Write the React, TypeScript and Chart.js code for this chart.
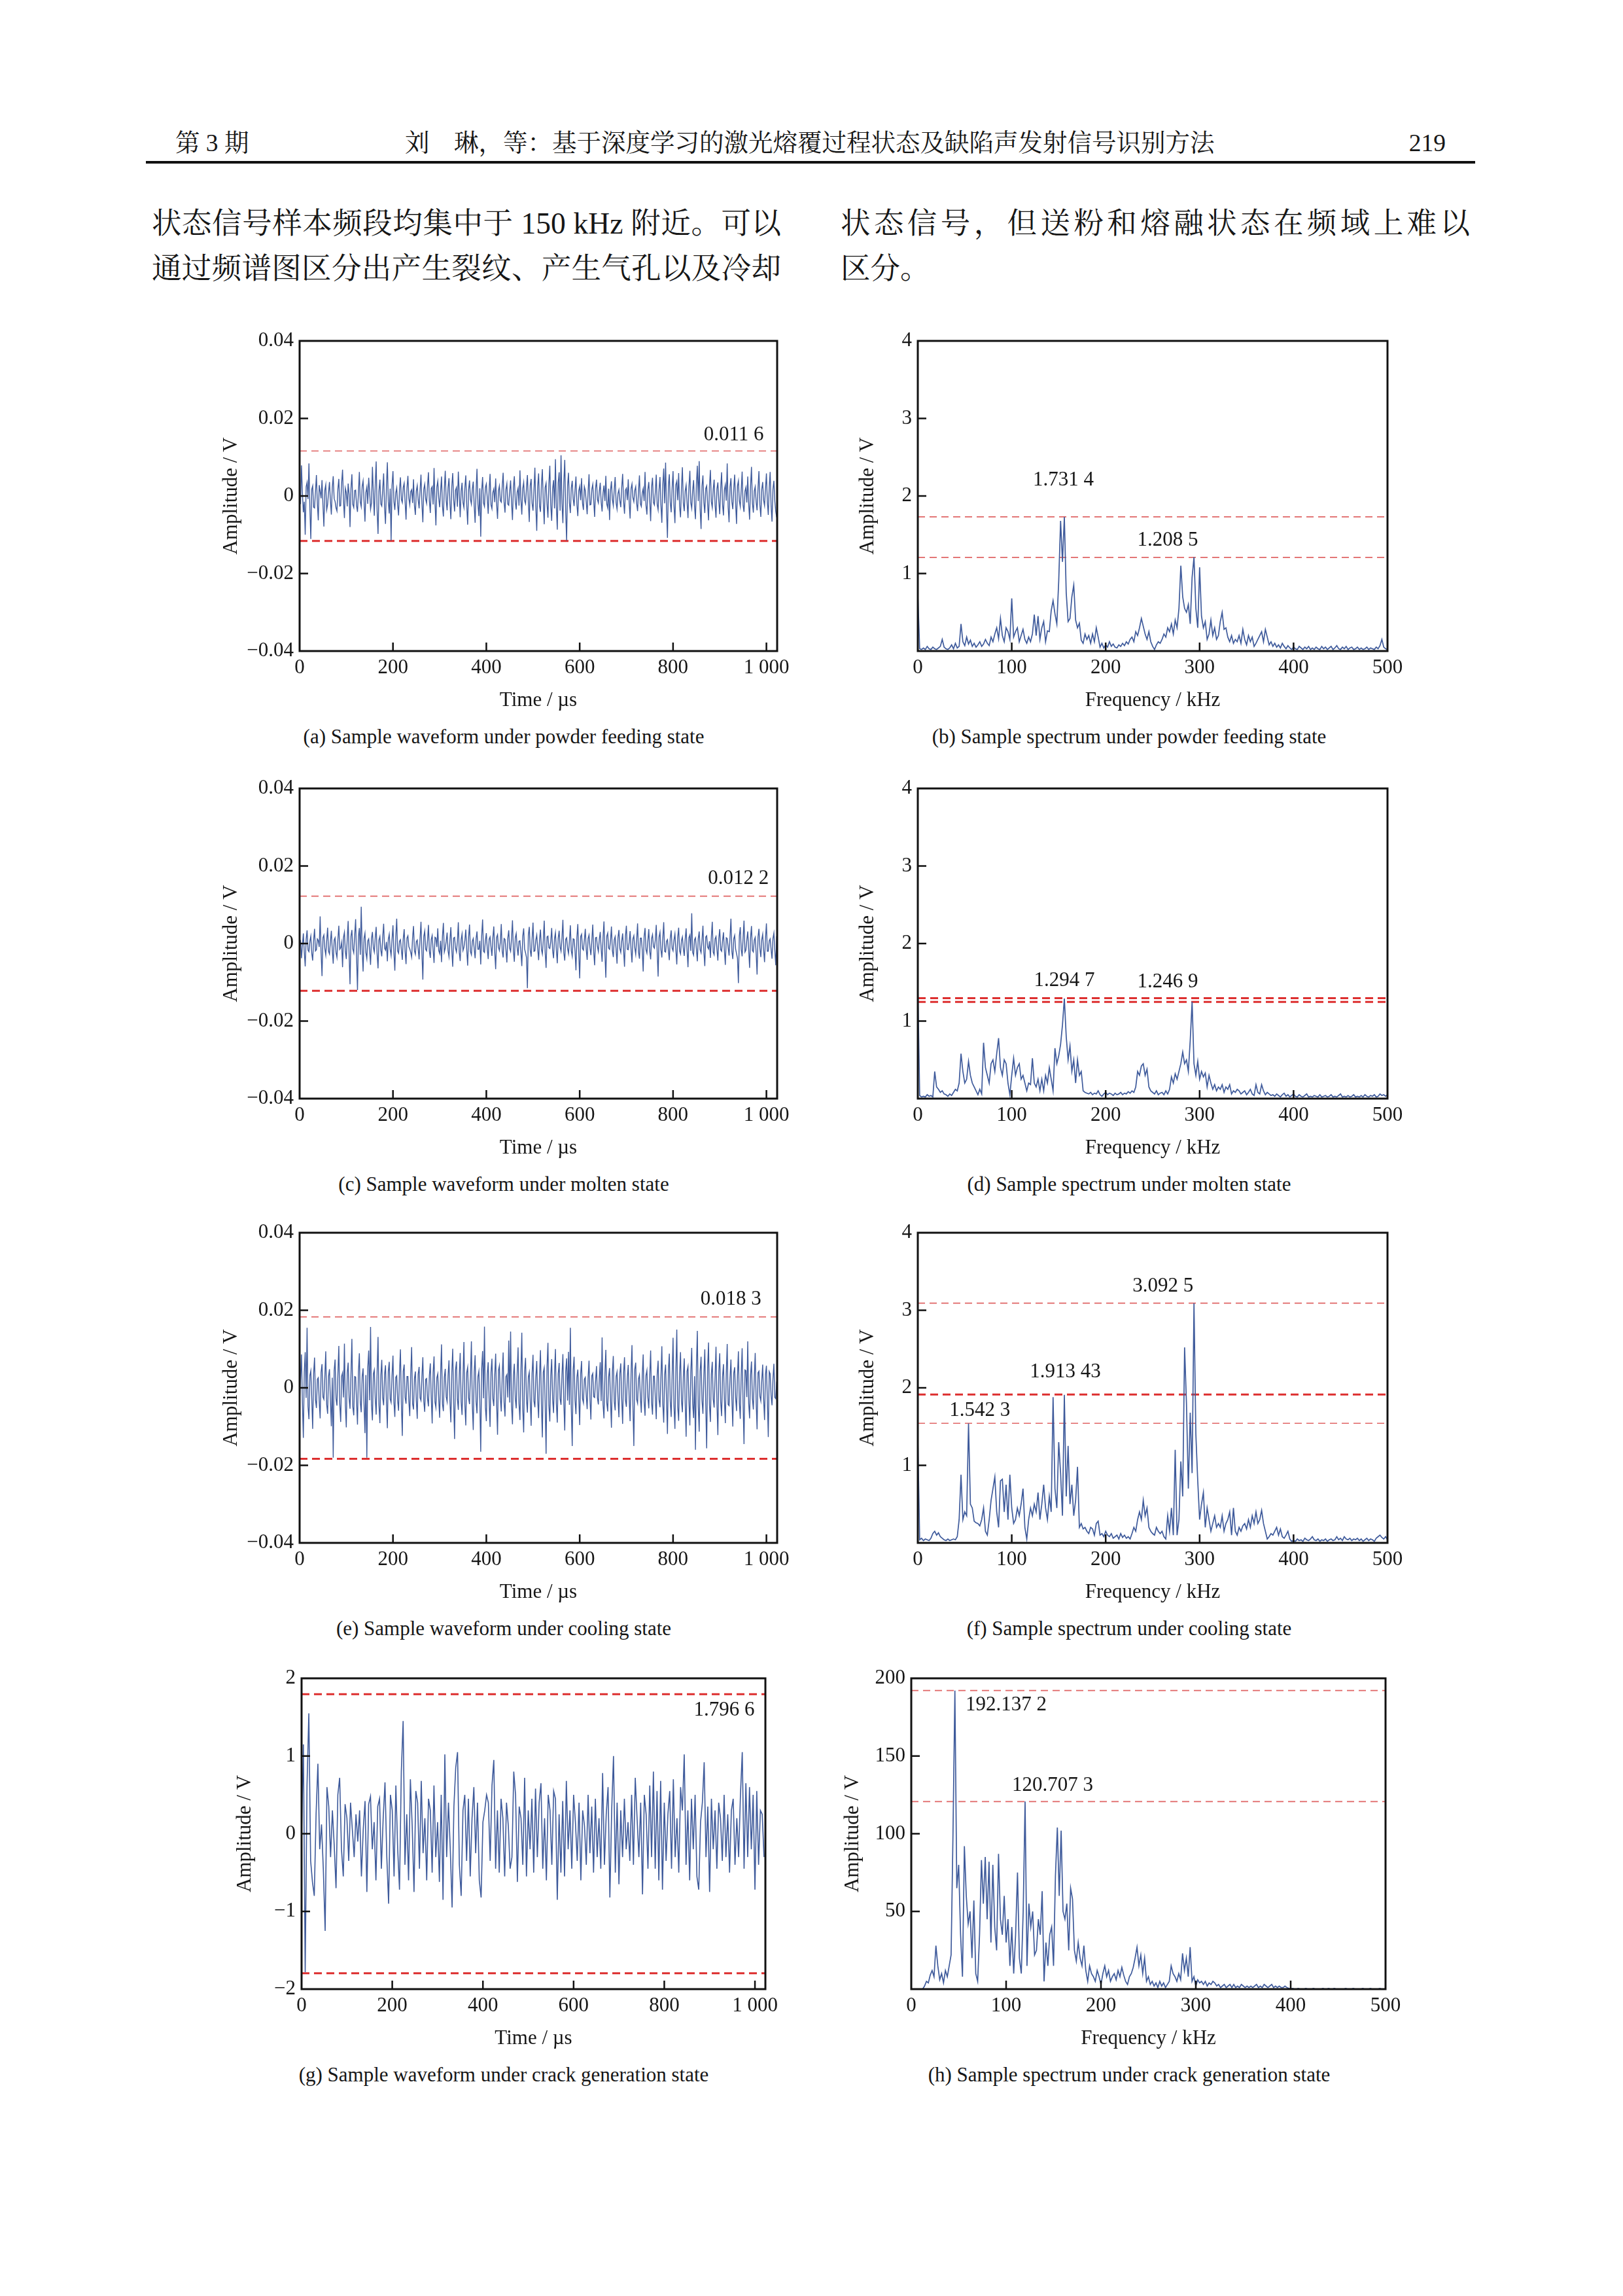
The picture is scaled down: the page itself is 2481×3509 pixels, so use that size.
import React, { useEffect, useRef } from "react";
import { Chart, registerables } from "chart.js";

Chart.register(...registerables);

const SERIF = '"Liberation Serif", "Times New Roman", serif';
const CJK = '"Liberation Serif", "Noto Serif CJK SC", "Noto Sans CJK SC", serif';
const TEXT = "#161616";
const BLUE = "#3e5a9b";
const RED_BOLD = "#dd2f2f";
const RED_LIGHT = "#e06464";

// sampling grids
const FINE_US = 2; // waveforms (a), (c), (e)
const CRACK_US = 4; // waveform (g)
const BIN_KHZ = 2; // spectra

// ---------- waveforms (mV for a, c, e; V for g) ----------
const powderWaveMV = [
  1.8, -2.1, 7.9, 0.6, -4.2, -1.5, -10.0, 2.4, 3.5, -0.8, 8.4, -3.3, -11.1, 1.7, 2.6, -2.9, -3.1, 1.2, 5.4, -1.9, -6.3, 2.8, 1.2, -0.6, 4.1, -2.4, -7.9, 1.5, 2.9, -3.6, -2.2, 0.9,
  3.6, -1.3, -4.8, 2.2, 5.1, -0.7, -1.4, -3.1, -3.9, 1.8, 4.4, -2.6, -2.5, 3.3, 6.8, -1.1, -5.7, 2.0, 0.9, -2.7, 3.2, 0.4, -8.0, 1.9, 5.6, -2.2, -3.0, 1.4, 1.5, -2.5, -4.1, 0.8,
  6.2, -1.6, -2.8, 2.5, 3.9, -1.2, -6.6, 0.9, 2.3, -2.0, 4.7, 1.1, -3.4, -1.8, 7.5, 0.5, -5.1, 2.9, 8.9, -3.7, -9.8, 1.3, 4.2, -2.1, -2.6, 1.6, 5.8, -3.0, -7.2, 2.4, 8.7, -1.5,
  -4.5, 1.9, -11.5, 2.7, 6.4, -1.4, -3.6, 0.8, 2.1, -2.3, -5.0, 1.6, 4.8, -0.9, -1.7, 2.2, 3.3, -1.5, -6.1, 2.0, 5.2, -0.6, -2.3, 1.1, 1.6, -1.8, 4.3, -2.5, -4.9, 1.3, 2.7, -1.0,
  -3.2, 1.4, 5.5, -2.0, -6.8, 1.7, 3.0, -0.8, -1.9, 2.6, 6.1, -1.3, -4.4, 1.9, 2.4, -2.2, 7.2, -1.6, -7.6, 2.3, 3.8, -0.5, -2.9, 1.2, 5.0, -2.7, -5.3, 1.8, 6.5, -1.1, -3.7, 2.1,
  4.6, -1.9, -6.0, 2.4, 5.9, -1.0, -4.0, 1.5, 2.2, -2.8, 6.3, 0.7, -5.5, 1.2, 3.4, -1.7, -3.0, 2.1, 5.3, -2.4, -7.4, 1.6, 4.0, -0.9, -2.1, 1.8, 3.7, -2.6, -6.9, 1.4, 7.0, -2.2,
  -5.2, 2.0, -10.5, 1.3, 4.9, -1.8, -2.7, 2.2, 3.1, -0.6, -4.6, 1.5, 5.7, -2.3, -3.3, 0.9, 1.8, -1.6, 4.5, -2.0, -5.9, 1.4, 2.6, -1.2, -1.6, 2.4, 6.0, -1.5, -4.3, 1.7, 3.2, -2.1,
  -2.4, 1.1, 4.0, -1.7, -6.2, 2.3, 5.1, -1.4, -3.5, 1.0, 2.0, -2.5, 6.6, -0.8, -4.8, 1.9, 3.5, -1.2, -2.0, 2.1, 5.4, -1.6, -6.7, 2.7, 4.4, -1.9, -3.8, 1.3, 7.3, -2.8, -9.0, 2.4,
  5.8, -2.6, -4.1, 2.9, 6.9, -1.5, -7.3, 2.2, 3.3, -2.0, -5.6, 3.1, 7.8, -2.4, -6.4, 1.8, 4.1, -3.2, 9.5, -2.7, -8.7, 3.4, 6.1, -3.8, 10.5, -1.9, -7.0, 3.6, 9.3, -4.2, -11.5, 2.5,
  6.0, -1.8, -4.4, 2.1, 3.9, -0.7, -2.6, 1.6, 5.0, -2.2, -5.2, 1.3, 2.5, -1.1, 4.6, -1.9, -3.6, 2.4, 1.4, -1.5, -4.7, 1.0, 5.6, -2.3, -2.2, 1.7, 3.0, -1.2, -5.4, 2.0, 4.2, -0.9,
  -1.8, 1.2, 3.4, -1.6, -4.0, 0.8, 2.7, -1.3, 5.2, -2.1, -3.1, 1.9, -6.2, 1.4, 3.8, -0.9, -2.5, 1.7, 4.9, -1.8, -3.4, 0.6, 1.6, -1.2, -2.9, 2.2, 5.7, -1.4, -4.6, 1.5, 2.0, -1.1,
  4.3, -1.7, -5.8, 1.9, 3.1, -0.5, -1.5, 1.4, 2.4, -1.9, -3.9, 1.2, 5.3, -2.0, -2.7, 0.8, 1.9, -1.3, 6.2, -2.4, -4.8, 1.6, 3.6, -1.0, -6.5, 2.3, 4.7, -1.7, -2.3, 1.1, 5.5, -2.2,
  -3.6, 1.6, 4.9, -2.3, -6.9, 2.8, 7.1, -1.9, 8.6, -3.5, -10.8, 2.6, 5.6, -1.7, -4.2, 2.0, 6.4, -2.5, -7.0, 2.9, 3.8, -1.1, 5.9, -2.7, -5.5, 2.1, 7.4, -1.8, -3.9, 1.3, 2.8, -1.6,
  -5.7, 2.2, 6.5, -1.8, -3.2, 1.4, 4.1, -2.6, -6.0, 2.9, 7.8, -1.3, 9.0, -3.4, -8.5, 2.5, 5.3, -1.6, -4.4, 1.9, 2.6, -2.1, -6.3, 2.4, 6.7, -1.5, -3.0, 1.7, 4.2, -2.3, -5.6, 1.8,
  3.5, -1.4, -4.7, 2.0, 6.1, -2.2, -5.0, 1.6, 2.9, -1.2, 8.4, -2.9, -6.8, 2.3, 4.6, -1.5, -3.4, 1.8, 5.5, -2.0, -7.2, 2.6, 3.9, -1.3, -2.8, 1.5, 6.3, -2.4, -4.1, 1.2, 2.2, -1.7,
  5.0, -2.1, -6.1, 2.5, 7.5, -1.9, -4.3, 1.3, 2.4, -1.6, -3.7, 2.0, 6.4, -2.3, -5.4, 1.7, 3.6, -1.1, -2.5, 1.9, 5.8, -1.5, -4.9, 2.2, 6.2, -2.6, -6.6, 1.8, 3.9, -1.4, -4.0, -5.5,
];

const moltenWaveMV = [
  -1.2, 0.9, -3.8, -0.4, 2.6, -2.2, -5.9, 1.1, 3.4, -1.7, -2.1, 0.6, 1.9, -2.5, -4.4, 0.8, 3.8, -1.9, -1.6, 1.2, 0.8, -0.9, 7.0, -2.4, -8.4, 1.5, 2.2, -1.3, -3.0, 0.7, 4.1, -2.0,
  -2.7, 0.5, 3.3, -1.8, -5.2, 0.9, 1.5, -2.3, -3.6, 1.0, 4.6, -1.5, -1.1, 0.3, -6.1, 1.6, 2.9, -2.1, -4.0, 1.2, 5.8, -2.8, -10.5, 1.9, 3.5, -1.4, -2.4, 2.1, 6.3, -3.5, -12.0, 1.8,
  4.0, -2.9, 9.5, -1.6, -7.2, 1.4, 2.7, -2.4, -3.9, 0.7, 1.2, -1.8, -5.5, 1.3, 3.0, -1.1, -2.2, 1.5, 4.3, -2.6, -6.4, 0.9, 1.8, -1.7, -3.3, 1.6, 5.1, -1.2, -1.7, 0.4, -4.6, 1.1,
  2.4, -1.5, -3.1, 1.0, 4.7, -2.2, -7.0, 1.7, 6.4, -1.9, -2.5, 0.6, 1.0, -1.6, -4.2, 1.2, 3.7, -2.0, -5.3, 1.4, 2.0, -0.8, -1.4, -2.3, -3.5, 1.5, 4.5, -1.9, -2.8, 0.5, 0.9, -1.4,
  -4.1, 1.3, 5.6, -2.4, -9.3, 1.8, 3.2, -1.5, -1.9, 0.8, 4.8, -2.0, -3.7, 1.1, 2.1, -1.7, -5.0, 1.6, 1.4, -0.9, 3.9, -1.8, -2.6, 0.7, -4.8, 1.9, 5.3, -2.2, -1.2, 0.6, 2.8, -1.9,
  -3.4, 0.9, 4.2, -1.7, -6.0, 1.4, 1.6, -1.2, -2.2, 0.5, 5.5, -2.3, -4.5, 1.0, 2.5, -1.8, -1.0, 0.8, 3.6, -1.6, -5.7, 1.7, 4.9, -2.1, -2.9, 0.6, 1.3, -1.4, -3.8, 1.2, 3.1, -1.5,
  -1.5, 0.7, -5.4, 1.9, 6.2, -2.0, -2.3, 0.8, 2.7, -1.4, -4.0, 1.1, 1.7, -0.9, -3.2, 1.5, 4.4, -2.2, -6.6, 1.6, 2.3, -1.0, -1.8, 0.4, 5.0, -1.9, -3.6, 1.3, 1.1, -1.6, -4.9, 1.4,
  3.4, -1.2, -2.0, 1.3, 6.0, -1.9, -4.7, 1.5, 2.6, -1.0, -3.1, 0.6, 0.7, -2.1, -5.8, 1.8, 3.9, -1.4, -2.4, -3.6, -11.5, 2.2, 4.3, -1.7, -3.4, 1.1, 5.4, -2.0, -1.9, 0.9, 2.2, -1.3,
  -4.3, 1.0, 3.6, -1.5, -2.7, 0.8, 5.9, -2.2, -6.3, 1.7, 1.9, -1.1, -1.3, 0.5, 4.0, -1.8, -3.8, 1.2, 2.8, -1.6, -5.1, 1.4, 3.3, -0.9, -2.0, 1.3, 6.1, -2.4, -4.4, 1.1, 1.5, -1.2,
  -2.6, 0.6, 4.7, -1.9, -3.3, 1.2, 1.1, -2.0, -6.9, 1.6, 5.0, -2.7, -9.0, 1.8, 2.4, -1.3, -1.7, 0.9, 3.8, -1.5, -4.2, 1.3, 2.2, -1.1, -3.0, 0.8, 4.9, -2.1, -5.6, 1.5, 1.6, -0.8,
  -2.1, 1.1, 3.0, -1.4, -4.7, 1.6, 5.7, -2.5, -8.8, 1.9, 2.7, -1.2, -1.5, 0.7, 4.4, -1.8, -3.5, 1.0, 1.8, -1.6, -5.2, 1.5, 3.5, -1.3, -2.3, 0.6, 2.6, -1.7, -6.0, 1.9, 4.6, -1.5,
  -1.6, 0.4, 3.2, -1.5, -4.9, 1.2, 2.0, -1.1, -2.8, 0.9, 5.2, -2.2, -3.9, 1.4, 1.4, -1.7, -7.2, 1.8, 4.0, -1.6, -2.5, 0.7, 3.7, -1.9, -4.1, 1.3, 2.3, -0.8, -1.2, 1.0, 4.8, -2.1,
  -8.5, 1.7, 2.9, -1.6, -3.6, 1.2, 5.5, -2.0, -2.2, 0.6, 1.0, -1.8, -4.3, 1.4, 3.4, -1.2, -1.9, 0.9, 2.5, -1.5, -5.4, 1.6, 4.1, -1.9, -2.7, 0.8, 1.7, -1.3, -3.2, 1.1, 3.9, -1.7,
  -6.1, 1.5, 2.2, -1.9, 7.8, -2.3, -3.0, 1.0, 1.5, -1.4, -4.6, 1.3, 3.1, -1.6, -2.4, 0.8, 4.6, -2.1, -5.8, 1.7, 2.0, -0.9, -1.4, 0.6, -3.7, 1.6, 5.6, -2.2, -2.9, 1.2, 1.8, -1.5,
  -4.4, 1.3, 3.7, -1.6, -2.0, 0.7, 2.9, -1.8, -5.5, 1.5, 1.3, -1.0, -3.1, 1.7, 6.4, -2.1, -4.0, 1.2, 2.1, -1.4, -2.6, -3.8, -10.2, 2.0, 4.2, -1.5, -3.3, 1.4, 5.9, -2.2, -1.7, 0.9,
  3.1, -1.6, -6.3, 1.5, 4.5, -1.8, -2.2, 0.9, 1.6, -2.5, -8.0, 1.7, 3.8, -1.2, -3.5, 1.0, 2.4, -1.7, -4.8, 1.4, 5.2, -2.0, -2.0, 0.7, 1.2, -1.5, -3.9, 1.3, 2.7, -1.8, -5.6, 1.9,
];

const coolingWaveMV = [
  -3.5, 2.4, 8.6, -3.9, -12.9, 4.1, 9.2, -2.6, 15.5, -4.8, -8.1, 3.2, 4.4, -2.9, -10.6, 3.7, 7.8, -3.1, -5.2, 2.2, 2.6, -3.5, -7.9, 4.0, 6.1, -2.4, -3.0, 2.8, 9.4, -4.3, -6.7, 3.0,
  4.8, -3.3, -9.9, 2.6, -18.0, 4.4, 7.3, -2.8, -4.6, 3.5, 10.8, -4.2, -8.8, 3.0, 3.9, -2.5, 11.4, -4.6, -10.2, 3.8, 6.5, -2.7, -5.4, 3.4, 12.6, -4.9, -7.1, 2.9, 2.8, -3.6, -9.5, 4.1,
  8.9, -3.7, -6.3, 2.9, 5.0, -4.1, -11.7, 3.3, -18.0, 5.1, 9.6, -3.2, 15.7, -4.5, -8.4, 3.6, 4.6, -2.7, -6.9, 3.9, 13.1, -4.4, -9.1, 3.1, 7.2, -2.6, -4.5, 3.4, 5.8, -3.8, -10.4, 4.2,
  6.7, -2.9, -3.8, 3.1, 8.3, -3.6, -7.5, 2.7, 3.1, -3.3, -5.9, 3.8, 9.9, -4.0, -12.4, 4.3, 6.0, -2.5, -4.1, 2.9, 2.9, -3.4, -7.3, 3.6, 10.5, -4.1, -5.6, 2.4, 4.2, -3.2, -8.0, 3.5,
  5.4, -2.6, -3.3, 2.9, 7.9, -3.5, -6.2, 2.2, 2.4, -2.8, -4.8, 3.2, 6.3, -2.5, -9.2, 3.9, 8.1, -3.7, -5.1, 2.6, 3.6, -3.0, -7.7, 3.4, 11.2, -4.2, -6.0, 2.7, 4.9, -2.3, -3.6, 3.1,
  7.1, -3.4, -8.9, 3.8, 10.1, -4.0, -13.2, 4.6, 6.8, -2.9, -5.7, 3.3, 9.0, -3.6, -7.0, 2.8, 11.8, -4.4, -9.7, 3.9, 5.3, -2.6, -4.2, 3.0, 12.0, -4.7, -10.9, 4.1, 8.4, -3.5, -6.6, 2.9,
  4.3, -3.1, -16.5, 4.8, 9.5, -2.7, 15.8, -5.0, -8.6, 3.5, 6.6, -3.2, -10.1, 4.0, 7.5, -2.8, -4.7, 3.3, 8.8, -3.9, -12.1, 4.5, 5.7, -2.6, -6.1, 3.0, 9.1, -3.7, -7.4, 2.9, 3.4, -2.5,
  12.2, -3.8, 14.5, -4.6, -9.4, 3.2, 6.2, -2.7, -5.3, 3.6, 10.4, -4.1, -8.3, 3.9, 14.2, -5.2, -11.5, 4.4, 7.7, -3.0, -6.4, 2.8, 4.0, -3.3, -9.8, 3.7, 8.5, -3.4, -5.0, 2.6, 6.9, -3.1,
  -7.8, 3.5, 9.7, -4.2, -12.8, 4.0, 5.2, -3.6, -17.0, 5.3, 11.6, -4.5, -8.7, 3.1, 7.4, -2.9, -6.5, 3.3, 10.0, -4.0, -9.0, 3.6, 6.4, -2.8, -4.4, 3.2, 8.7, -3.9, -11.0, 4.2, 7.6, -3.3,
  9.3, -4.4, 15.5, -5.1, -15.0, 4.6, 8.0, -3.2, -6.8, 2.7, 4.7, -2.4, -9.6, 3.5, 6.9, -2.8, -3.9, 2.2, 2.7, -1.9, -5.5, 2.6, 7.0, -3.0, -8.2, 3.1, 3.7, -2.3, -2.5, 1.8, 5.6, -2.6,
  -4.3, 2.5, 6.6, -3.4, 13.0, -4.3, -7.9, 3.6, 9.8, -3.9, -6.1, 2.8, 5.1, -3.1, -10.3, 4.1, 8.2, -3.5, -5.8, 2.9, 4.1, -2.6, -7.6, 3.7, 6.3, -2.9, -9.3, 3.8, 7.9, -3.2, -4.9, 2.7,
  5.9, -2.8, -8.6, 3.7, 11.0, -4.5, -15.0, 4.8, 6.5, -3.0, -4.0, 2.3, 3.3, -2.5, -6.4, 3.1, 8.6, -3.6, -7.2, 3.2, 4.5, -2.4, -5.3, 2.9, 9.6, -3.8, -6.9, 3.0, 3.0, -2.7, -8.1, 3.4,
  7.0, -3.1, -5.0, 2.7, 10.7, -4.0, -9.0, 3.4, 6.0, -2.9, -11.9, 4.4, 8.8, -3.5, -7.5, 3.0, 12.9, -4.7, -10.6, 4.1, 15.0, -5.0, -8.5, 3.6, 9.2, -3.3, -6.3, 2.8, 7.6, -3.9, -12.6, 4.3,
  5.5, -3.2, -9.7, 3.9, 10.3, -4.1, -7.8, 3.0, -16.0, 5.2, 14.7, -4.9, -11.3, 4.3, 8.0, -3.3, -6.7, 3.1, 9.9, -4.2, -15.6, 4.9, 11.7, -4.4, -8.8, 3.5, 6.7, -2.9, -5.1, 2.7, 10.6, -4.0,
  -12.2, 4.2, 8.9, -3.6, -7.3, 2.9, 6.1, -3.1, -9.1, 3.7, 11.3, -4.3, -4.6, 2.5, 7.3, -3.0, -10.0, 3.8, 5.3, -2.6, -6.0, 3.2, 9.4, -3.9, -8.0, 3.4, 10.2, -4.1, -14.5, 4.6, 4.4, -2.4,
  12.0, -4.0, -7.9, 3.3, 6.8, -2.8, -5.6, 2.6, 9.0, -3.7, -10.7, 3.9, 4.3, -2.2, -3.4, 1.9, 6.0, -2.9, -8.3, 3.5, 5.7, -3.1, -12.7, 4.2, 3.6, -2.0, -4.5, 2.3, 6.2, -2.5, -2.8, 1.6,
];

const crackWaveV = [
  0.0, 1.15, -1.78, 0.62, 1.55, -0.35, -0.62, -0.8, 0.25, 0.9, -0.2, 0.12, -0.46, -1.25, 0.6, 0.35,
  -0.3, 0.3, -0.15, -0.7, 0.5, 0.72, -0.2, -0.55, 0.38, 0.2, -0.35, 0.4, 0.05, -0.3, 0.25, -0.1,
  0.3, -0.55, 0.05, 0.42, -0.75, 0.38, 0.48, -0.2, 0.15, -0.6, 0.35, 0.45, -0.45, 0.2, 0.66, -0.3,
  -0.9, 0.5, 0.3, -0.55, 0.62, -0.2, -0.72, 0.8, 1.45, -0.4, 0.25, -0.6, 0.7, 0.1, -0.75, 0.55,
  0.4, -0.45, 0.68, -0.25, 0.2, -0.6, 0.45, 0.3, -0.5, 0.62, -0.3, 0.15, -0.62, 0.5, -0.85, 1.02,
  -0.3, 0.4, -0.2, -0.95, 0.35, 0.85, 1.05, -0.4, -0.8, 0.3, 0.5, -0.35, 0.45, -0.55, 0.2, 0.6,
  -0.25, 0.4, -0.6, -0.82, 0.15, 0.3, 0.5, 0.4, -0.35, 0.62, 0.95, -0.45, 0.3, -0.5, 0.45, 0.2,
  -0.55, 0.4, 0.1, -0.45, -0.3, 0.8, 0.5, -0.62, 0.35, 0.2, -0.4, 0.72, -0.55, 0.3, -0.2, 0.45,
  -0.5, 0.58, -0.3, 0.4, 0.65, -0.45, 0.2, -0.6, 0.5, 0.3, -0.4, 0.55, 0.45, -0.85, 0.25, -0.5,
  0.42, -0.55, 0.68, -0.2, 0.3, -0.45, 0.5, 0.15, -0.35, 0.4, -0.6, 0.3, 0.1, -0.4, 0.5, -0.25,
  0.35, -0.5, 0.45, -0.3, 0.2, -0.45, 0.78, -0.4, 0.25, 0.6, -0.82, 0.3, 1.0, -0.5, 0.4, -0.65,
  0.3, -0.3, 0.45, -0.2, 0.15, -0.35, 0.5, -0.4, 0.72, 0.2, -0.3, 0.4, -0.78, 0.5, 0.25, -0.45,
  0.62, -0.3, 0.8, -0.45, 0.55, -0.6, 0.68, -0.72, 0.4, -0.35, 0.25, 0.55, -0.45, 0.7, -0.3, 0.2,
  -0.5, 0.6, 0.3, 1.02, -0.4, 0.3, -0.6, 0.45, -0.2, 0.5, -0.55, -0.72, 0.15, 0.4, 0.92, -0.3,
  0.35, -0.75, 0.45, -0.2, 0.3, -0.45, 0.4, 0.2, -0.35, 0.5, -0.3, 0.25, -0.5, 0.3, 0.45, -0.4,
  0.2, -0.3, 0.5, 1.05, -0.45, 0.65, -0.3, 0.6, -0.2, 0.5, -0.72, 0.55, -0.4, 0.3, 0.25, -0.3,
];

// ---------- spectra (V), bins every 2 kHz from 0 to 500 ----------
const powderSpecV = [
  0.72, 0.03, 0.02, 0.04, 0.02, 0.06, 0.03, 0.02, 0.05, 0.03,
  0.02, 0.04, 0.06, 0.15, 0.05, 0.03, 0.02, 0.04, 0.08, 0.03,
  0.1, 0.04, 0.06, 0.35, 0.12, 0.07, 0.18, 0.09, 0.14, 0.06,
  0.1, 0.05, 0.08, 0.12, 0.06, 0.09, 0.15, 0.1, 0.07, 0.18,
  0.12, 0.22, 0.3, 0.16, 0.42, 0.2, 0.12, 0.3, 0.25, 0.15,
  0.68, 0.18, 0.25, 0.3, 0.12, 0.2, 0.28, 0.15, 0.1, 0.18,
  0.12, 0.22, 0.47, 0.2, 0.45, 0.15, 0.3, 0.38, 0.12, 0.26,
  0.25, 0.52, 0.65, 0.48, 0.35, 0.9, 1.68, 1.15, 1.73, 0.75,
  0.38, 0.42, 0.7, 0.85, 0.4, 0.3, 0.36, 0.14, 0.1, 0.22,
  0.15, 0.2, 0.1, 0.22, 0.12, 0.3, 0.18, 0.05, 0.1, 0.04,
  0.08, 0.05, 0.12, 0.06, 0.09, 0.05, 0.04, 0.08, 0.06, 0.1,
  0.07, 0.12, 0.09, 0.15, 0.18, 0.12, 0.25, 0.2, 0.3, 0.42,
  0.32, 0.22, 0.15, 0.25, 0.12, 0.06, 0.02, 0.08, 0.12, 0.1,
  0.15, 0.22, 0.18, 0.3, 0.25, 0.35, 0.22, 0.4, 0.3, 0.55,
  1.1, 0.7, 0.55, 0.5, 0.6, 0.35, 0.95, 1.21, 0.55, 0.3,
  1.08, 0.45, 0.3, 0.38, 0.15, 0.22, 0.4, 0.2, 0.3, 0.15,
  0.2, 0.38, 0.5, 0.28, 0.3, 0.18, 0.12, 0.2, 0.1, 0.15,
  0.12, 0.2, 0.1, 0.28, 0.15, 0.08, 0.2, 0.12, 0.18, 0.06,
  0.1, 0.15, 0.2, 0.25, 0.12, 0.28, 0.18, 0.08, 0.12, 0.06,
  0.1, 0.05, 0.08, 0.04, 0.1, 0.06, 0.03, 0.07, 0.04, 0.02,
  0.05, 0.03, 0.02, 0.06, 0.04, 0.02, 0.05, 0.03, 0.06, 0.02,
  0.04, 0.02, 0.05, 0.03, 0.02, 0.06, 0.03, 0.05, 0.02, 0.04,
  0.06, 0.02, 0.04, 0.07, 0.03, 0.02, 0.05, 0.03, 0.06, 0.02,
  0.04, 0.05, 0.02, 0.03, 0.05, 0.02, 0.04, 0.02, 0.03, 0.05,
  0.02, 0.04, 0.03, 0.02, 0.05, 0.03, 0.07, 0.15, 0.05, 0.03,
  0.02,
];

const moltenSpecV = [
  1.45, 0.04, 0.02, 0.03, 0.02, 0.05, 0.03, 0.04, 0.02, 0.35,
  0.15, 0.12, 0.08, 0.1, 0.06, 0.05, 0.03, 0.06, 0.04, 0.08,
  0.12, 0.1, 0.2, 0.58, 0.35, 0.2, 0.25, 0.48, 0.3, 0.2,
  0.15, 0.1, 0.05, 0.12, 0.06, 0.72, 0.4, 0.3, 0.2, 0.45,
  0.5, 0.35, 0.58, 0.78, 0.4, 0.3, 0.5, 0.45, 0.2, 0.05,
  0.3, 0.52, 0.3, 0.4, 0.45, 0.25, 0.3, 0.2, 0.1, 0.2,
  0.18, 0.52, 0.2, 0.15, 0.25, 0.1, 0.25, 0.1, 0.3, 0.2,
  0.4, 0.25, 0.1, 0.65, 0.45, 0.55, 0.7, 0.95, 1.29, 0.8,
  0.5, 0.68, 0.35, 0.5, 0.2, 0.5, 0.3, 0.35, 0.1, 0.08,
  0.07, 0.06, 0.08, 0.05, 0.07, 0.06, 0.1, 0.05, 0.03, 0.06,
  0.08, 0.05, 0.07, 0.06, 0.04, 0.07, 0.05, 0.06, 0.08, 0.05,
  0.07, 0.06, 0.09, 0.07, 0.1, 0.08, 0.15, 0.35, 0.3, 0.42,
  0.45, 0.3, 0.38, 0.15, 0.1, 0.08, 0.06, 0.1, 0.05, 0.07,
  0.08, 0.05, 0.1, 0.06, 0.12, 0.28, 0.2, 0.32, 0.25, 0.35,
  0.45, 0.6, 0.45, 0.5, 0.35, 0.75, 1.25, 0.45, 0.3, 0.48,
  0.25, 0.35, 0.28, 0.33, 0.15, 0.3, 0.2, 0.12, 0.18, 0.1,
  0.15, 0.12, 0.18, 0.08, 0.15, 0.12, 0.18, 0.06, 0.1, 0.08,
  0.12, 0.1, 0.06, 0.08, 0.1, 0.05, 0.08, 0.12, 0.06, 0.04,
  0.18, 0.08, 0.06, 0.18, 0.1, 0.05, 0.08, 0.06, 0.04, 0.05,
  0.03, 0.06, 0.04, 0.02, 0.05, 0.07, 0.03, 0.05, 0.02, 0.04,
  0.06, 0.03, 0.02, 0.05, 0.03, 0.02, 0.04, 0.06, 0.02, 0.03,
  0.02, 0.04, 0.03, 0.02, 0.05, 0.02, 0.03, 0.04, 0.02, 0.03,
  0.05, 0.02, 0.03, 0.02, 0.04, 0.06, 0.02, 0.03, 0.02, 0.04,
  0.02, 0.03, 0.05, 0.02, 0.03, 0.02, 0.04, 0.02, 0.05, 0.03,
  0.02, 0.04, 0.03, 0.05, 0.02, 0.03, 0.06, 0.04, 0.05, 0.03,
  0.05,
];

const coolingSpecV = [
  1.35, 0.04, 0.06, 0.03, 0.05, 0.04, 0.03, 0.06, 0.12, 0.15,
  0.1, 0.13, 0.08, 0.06, 0.04, 0.03, 0.05, 0.03, 0.04, 0.05,
  0.04, 0.08, 0.3, 0.88, 0.3, 0.4, 0.35, 1.54, 0.5, 0.45,
  0.28, 0.26, 0.25, 0.22, 0.3, 0.45, 0.15, 0.1, 0.3, 0.55,
  0.7, 0.85, 0.4, 0.2, 0.8, 0.82, 0.4, 0.75, 0.3, 0.88,
  0.45, 0.25, 0.3, 0.45, 0.35, 0.5, 0.7, 0.2, 0.05, 0.3,
  0.45, 0.35, 0.5, 0.4, 0.65, 0.3, 0.5, 0.75, 0.45, 0.3,
  0.6, 0.4, 1.88, 0.7, 0.45, 1.3, 0.9, 0.35, 1.91, 0.6,
  1.25, 0.5, 0.75, 0.35, 0.55, 0.98, 0.2, 0.25, 0.18, 0.2,
  0.15, 0.12, 0.2, 0.18, 0.1, 0.25, 0.28, 0.1, 0.12, 0.08,
  0.15, 0.1, 0.08, 0.12, 0.06, 0.08, 0.1, 0.05, 0.12, 0.07,
  0.1, 0.06, 0.08, 0.05, 0.12, 0.2, 0.15, 0.3, 0.4, 0.3,
  0.55, 0.35, 0.45, 0.2, 0.15, 0.12, 0.1, 0.2, 0.15, 0.12,
  0.15, 0.08, 0.05, 0.35, 0.15, 0.45, 0.1, 1.2, 0.1, 0.3,
  1.05, 0.6, 2.52, 1.8, 0.7, 1.68, 0.9, 3.09, 1.4, 0.8,
  0.3, 0.5, 0.65, 0.2, 0.45, 0.3, 0.15, 0.25, 0.35, 0.2,
  0.25, 0.2, 0.35, 0.15, 0.25, 0.3, 0.4, 0.1, 0.45, 0.15,
  0.1, 0.2, 0.15, 0.22, 0.25, 0.18, 0.3, 0.2, 0.35, 0.25,
  0.4, 0.25, 0.3, 0.42, 0.25, 0.15, 0.05, 0.08, 0.12, 0.1,
  0.15, 0.2, 0.1, 0.18, 0.08, 0.06, 0.1, 0.15, 0.05, 0.02,
  0.03, 0.02, 0.05, 0.03, 0.04, 0.02, 0.06, 0.04, 0.03, 0.05,
  0.08, 0.04, 0.03, 0.05, 0.02, 0.04, 0.03, 0.05, 0.02, 0.04,
  0.05, 0.03, 0.04, 0.08, 0.04, 0.06, 0.03, 0.08, 0.05, 0.04,
  0.06, 0.03, 0.05, 0.04, 0.06, 0.03, 0.05, 0.02, 0.04, 0.06,
  0.03, 0.05, 0.04, 0.02, 0.06, 0.08, 0.1, 0.07, 0.05, 0.08,
  0.04,
];

const crackSpecV = [
  0, 0, 0, 0, 0, 0, 0, 2, 5, 4,
  9, 12, 8, 28, 15, 6, 10, 4, 12, 8,
  15, 22, 100, 192.1, 65, 80, 35, 8, 92, 60,
  42, 50, 20, 57, 10, 5, 35, 83, 55, 85,
  45, 82, 30, 80, 40, 25, 87, 45, 35, 60,
  30, 45, 15, 40, 10, 35, 75, 20, 10, 50,
  120.7, 15, 55, 40, 50, 22, 25, 45, 35, 63,
  5, 30, 15, 35, 40, 15, 73, 104, 60, 102,
  50, 45, 55, 25, 65, 58, 25, 18, 30, 20,
  15, 28, 12, 5, 15, 10, 8, 5, 12, 8,
  3, 10, 15, 8, 12, 5, 8, 10, 6, 12,
  8, 14, 9, 5, 3, 8, 10, 14, 20, 27,
  15, 22, 10, 20, 5, 8, 3, 5, 2, 4,
  1, 5, 2, 4, 1, 3, 5, 15, 10, 8,
  5, 10, 6, 23, 12, 20, 8, 27, 5, 8,
  2, 6, 4, 5, 3, 5, 2, 4, 3, 5,
  4, 2, 3, 1, 2, 3, 1, 2, 3, 1,
  3, 1, 2, 1, 3, 2, 1, 2, 1, 2,
  1, 2, 3, 1, 2, 1, 3, 2, 1, 2,
  3, 1, 2, 1, 2, 1, 1, 2, 1, 0.5,
  0, 0.5, 0, 0, 0.5, 0, 0, 0, 0.5, 0,
  0, 0, 0.5, 0, 0, 0, 0, 0.5, 0, 0,
  0.5, 0, 0, 0.5, 0, 0, 0, 0, 0, 0.5,
  0, 0, 0, 0.5, 0, 0, 0, 0, 0.5, 0,
  0, 0, 0.5, 0, 0, 0, 0, 0.5, 0, 0,
  0,
];

// ---------- ticks ----------
const timeTicks = [0, 200, 400, 600, 800, 1000];
const timeTickLabels = ["0", "200", "400", "600", "800", "1 000"];
const freqTicks = [0, 100, 200, 300, 400, 500];
const freqTickLabels = ["0", "100", "200", "300", "400", "500"];
const smallWaveTicks = [-0.04, -0.02, 0, 0.02, 0.04];
const smallWaveTickLabels = ["\u22120.04", "\u22120.02", "0", "0.02", "0.04"];
const crackWaveTicks = [-2, -1, 0, 1, 2];
const crackWaveTickLabels = ["\u22122", "\u22121", "0", "1", "2"];
const specTicks = [1, 2, 3, 4];
const specTickLabels = ["1", "2", "3", "4"];
const crackSpecTicks = [50, 100, 150, 200];
const crackSpecTickLabels = ["50", "100", "150", "200"];

// ---------- marked peak values ----------
const powderThr = [0.0116, -0.0116];
const powderPeaks = [1.7314, 1.2085];
const moltenThr = [0.0122, -0.0122];
const moltenPeaks = [1.2947, 1.2469];
const coolingThr = [0.0183, -0.0183];
const coolingPeaks = [3.0925, 1.91343, 1.5423];
const crackThr = [1.7966, -1.7966];
const crackPeaks = [192.1372, 120.7073];

const captions = [
  "(a) Sample waveform under powder feeding state",
  "(b) Sample spectrum under powder feeding state",
  "(c) Sample waveform under molten state",
  "(d) Sample spectrum under molten state",
  "(e) Sample waveform under cooling state",
  "(f) Sample spectrum under cooling state",
  "(g) Sample waveform under crack generation state",
  "(h) Sample spectrum under crack generation state",
];

const timesOf = (arr: number[], step: number) => arr.map((_, i) => i * step);
const freqsOf = (arr: number[]) => arr.map((_, i) => i * BIN_KHZ);
const mvToV = (arr: number[]) => arr.map((v) => v / 1000);

type Note = { text: string; x: number; y: number };
type Thr = { v: number; bold: boolean };
type PanelSpec = {
  L: number; R: number; T: number; B: number; yw: number;
  xs: number[]; ys: number[]; lw: number;
  xMin: number; xMax: number; yMin: number; yMax: number;
  xTicks: number[]; xLabels: string[]; yTicks: number[]; yLabels: string[];
  xTitle: string; thr: Thr[]; notes: Note[];
};

const COL1 = { L: 458, R: 1188, yw: 123 };
const COL2 = { L: 1403, R: 2121, yw: 95 };
const ROWS = [
  { T: 521, B: 995 },
  { T: 1205, B: 1679 },
  { T: 1884, B: 2358 },
  { T: 2565, B: 3040 },
];

const waveBase = {
  xMin: 0, xMax: 1023, xTicks: timeTicks, xLabels: timeTickLabels, xTitle: "Time / \u00b5s",
};
const specBase = {
  xMin: 0, xMax: 500, xTicks: freqTicks, xLabels: freqTickLabels, xTitle: "Frequency / kHz", lw: 1.7,
};

const panels: PanelSpec[] = [
  {
    ...COL1, ...ROWS[0], ...waveBase, lw: 1.4,
    xs: timesOf(powderWaveMV, FINE_US), ys: mvToV(powderWaveMV),
    yMin: -0.04, yMax: 0.04, yTicks: smallWaveTicks, yLabels: smallWaveTickLabels,
    thr: [{ v: powderThr[0], bold: false }, { v: powderThr[1], bold: true }],
    notes: [{ text: "0.011 6", x: 930, y: 0.0157 }],
  },
  {
    ...COL2, ...ROWS[0], ...specBase,
    xs: freqsOf(powderSpecV), ys: powderSpecV,
    yMin: 0, yMax: 4, yTicks: specTicks, yLabels: specTickLabels,
    thr: [{ v: powderPeaks[0], bold: false }, { v: powderPeaks[1], bold: false }],
    notes: [
      { text: "1.731 4", x: 155, y: 2.2 },
      { text: "1.208 5", x: 266, y: 1.43 },
    ],
  },
  {
    ...COL1, ...ROWS[1], ...waveBase, lw: 1.4,
    xs: timesOf(moltenWaveMV, FINE_US), ys: mvToV(moltenWaveMV),
    yMin: -0.04, yMax: 0.04, yTicks: smallWaveTicks, yLabels: smallWaveTickLabels,
    thr: [{ v: moltenThr[0], bold: false }, { v: moltenThr[1], bold: true }],
    notes: [{ text: "0.012 2", x: 940, y: 0.0167 }],
  },
  {
    ...COL2, ...ROWS[1], ...specBase,
    xs: freqsOf(moltenSpecV), ys: moltenSpecV,
    yMin: 0, yMax: 4, yTicks: specTicks, yLabels: specTickLabels,
    thr: [{ v: moltenPeaks[0], bold: true }, { v: moltenPeaks[1], bold: true }],
    notes: [
      { text: "1.294 7", x: 156, y: 1.52 },
      { text: "1.246 9", x: 266, y: 1.5 },
    ],
  },
  {
    ...COL1, ...ROWS[2], ...waveBase, lw: 1.4,
    xs: timesOf(coolingWaveMV, FINE_US), ys: mvToV(coolingWaveMV),
    yMin: -0.04, yMax: 0.04, yTicks: smallWaveTicks, yLabels: smallWaveTickLabels,
    thr: [{ v: coolingThr[0], bold: false }, { v: coolingThr[1], bold: true }],
    notes: [{ text: "0.018 3", x: 924, y: 0.0228 }],
  },
  {
    ...COL2, ...ROWS[2], ...specBase,
    xs: freqsOf(coolingSpecV), ys: coolingSpecV,
    yMin: 0, yMax: 4, yTicks: specTicks, yLabels: specTickLabels,
    thr: [
      { v: coolingPeaks[0], bold: false },
      { v: coolingPeaks[1], bold: true },
      { v: coolingPeaks[2], bold: false },
    ],
    notes: [
      { text: "3.092 5", x: 261, y: 3.31 },
      { text: "1.913 43", x: 157, y: 2.2 },
      { text: "1.542 3", x: 66, y: 1.71 },
    ],
  },
  {
    L: 461, R: 1170, yw: 105, ...ROWS[3], ...waveBase, lw: 1.6,
    xs: timesOf(crackWaveV, CRACK_US), ys: crackWaveV,
    yMin: -2, yMax: 2, yTicks: crackWaveTicks, yLabels: crackWaveTickLabels,
    thr: [{ v: crackThr[0], bold: true }, { v: crackThr[1], bold: true }],
    notes: [{ text: "1.796 6", x: 932, y: 1.59 }],
  },
  {
    L: 1393, R: 2118, yw: 108, ...ROWS[3], ...specBase,
    xs: freqsOf(crackSpecV), ys: crackSpecV,
    yMin: 0, yMax: 200, yTicks: crackSpecTicks, yLabels: crackSpecTickLabels,
    thr: [{ v: crackPeaks[0], bold: false }, { v: crackPeaks[1], bold: false }],
    notes: [
      { text: "192.137 2", x: 100, y: 183 },
      { text: "120.707 3", x: 149, y: 131 },
    ],
  },
];

const PT = 30;
const PR = 60;
const XH = 94;
const FONT_SIZE = 31;

function Panel({ s }: { s: PanelSpec }) {
  const ref = useRef<HTMLCanvasElement | null>(null);
  const w = s.yw + (s.R - s.L) + PR;
  const h = PT + (s.B - s.T) + XH;

  useEffect(() => {
    const canvas = ref.current;
    if (!canvas) return;
    const font = { family: SERIF, size: FONT_SIZE };
    const frame = {
      id: "frame",
      afterDraw(chart: any) {
        const { ctx, chartArea: a } = chart;
        const xs = chart.scales.x;
        const ys = chart.scales.y;
        ctx.save();
        ctx.strokeStyle = "#111";
        ctx.lineWidth = 3;
        ctx.strokeRect(a.left, a.top, a.right - a.left, a.bottom - a.top);
        ctx.lineWidth = 2.5;
        ctx.beginPath();
        xs.ticks.forEach((t: any) => {
          const px = xs.getPixelForValue(t.value);
          if (px > a.left + 3 && px < a.right - 3) {
            ctx.moveTo(px, a.bottom);
            ctx.lineTo(px, a.bottom - 13);
          }
        });
        ys.ticks.forEach((t: any) => {
          const py = ys.getPixelForValue(t.value);
          if (py > a.top + 3 && py < a.bottom - 3) {
            ctx.moveTo(a.left, py);
            ctx.lineTo(a.left + 13, py);
          }
        });
        ctx.stroke();
        ctx.fillStyle = TEXT;
        ctx.font = `${FONT_SIZE}px ${SERIF}`;
        ctx.textAlign = "center";
        ctx.textBaseline = "middle";
        s.notes.forEach((n) => {
          ctx.fillText(n.text, xs.getPixelForValue(n.x), ys.getPixelForValue(n.y));
        });
        ctx.restore();
      },
    };

    const datasets: any[] = [
      {
        data: s.ys.map((y, i) => ({ x: s.xs[i], y })),
        borderColor: BLUE,
        borderWidth: s.lw,
        pointRadius: 0,
        tension: 0,
        fill: false,
      },
      ...s.thr.map((t) => ({
        data: [
          { x: s.xMin, y: t.v },
          { x: s.xMax, y: t.v },
        ],
        borderColor: t.bold ? RED_BOLD : RED_LIGHT,
        borderWidth: t.bold ? 3 : 1.7,
        borderDash: t.bold ? [12, 7] : [11, 7],
        pointRadius: 0,
        fill: false,
      })),
    ];

    const chart = new Chart(canvas, {
      type: "line",
      data: { datasets },
      options: {
        animation: false,
        responsive: false,
        devicePixelRatio: 1,
        events: [],
        layout: { padding: { top: PT, right: PR, left: 0, bottom: 0 } },
        plugins: { legend: { display: false }, tooltip: { enabled: false } },
        scales: {
          x: {
            type: "linear",
            min: s.xMin,
            max: s.xMax,
            grid: { display: false, drawTicks: false },
            border: { display: false },
            afterBuildTicks: (sc: any) => {
              sc.ticks = s.xTicks.map((v) => ({ value: v }));
            },
            afterFit: (sc: any) => {
              sc.height = XH;
            },
            ticks: {
              autoSkip: false,
              maxRotation: 0,
              minRotation: 0,
              padding: 7,
              color: TEXT,
              font,
              callback: (_v: any, i: number) => s.xLabels[i],
            },
            title: { display: true, text: s.xTitle, color: TEXT, font, padding: 0 },
          },
          y: {
            type: "linear",
            min: s.yMin,
            max: s.yMax,
            grid: { display: false, drawTicks: false },
            border: { display: false },
            afterBuildTicks: (sc: any) => {
              sc.ticks = s.yTicks.map((v) => ({ value: v }));
            },
            afterFit: (sc: any) => {
              sc.width = s.yw;
            },
            ticks: {
              autoSkip: false,
              padding: 9,
              color: TEXT,
              font,
              callback: (_v: any, i: number) => s.yLabels[i],
            },
            title: { display: true, text: "Amplitude / V", color: TEXT, font, padding: 0 },
          },
        },
      } as any,
      plugins: [frame],
    });
    return () => chart.destroy();
  }, [s]);

  return (
    <canvas
      ref={ref}
      width={w}
      height={h}
      style={{ position: "absolute", left: s.L - s.yw, top: s.T - PT, width: w, height: h }}
    />
  );
}

const captionCenters = [
  { x: 770, y: 1126 }, { x: 1726, y: 1126 },
  { x: 770, y: 1810 }, { x: 1726, y: 1810 },
  { x: 770, y: 2489 }, { x: 1726, y: 2489 },
  { x: 770, y: 3171 }, { x: 1726, y: 3171 },
];

export default function App() {
  const abs = (o: React.CSSProperties): React.CSSProperties => ({ position: "absolute", ...o });
  const headerFont: React.CSSProperties = { fontFamily: CJK, fontSize: 37.5, lineHeight: "50px", color: TEXT, whiteSpace: "nowrap" };
  const paraFont: React.CSSProperties = { fontFamily: CJK, fontSize: 45.5, lineHeight: "70px", color: TEXT };
  const justify: React.CSSProperties = { textAlign: "justify", textAlignLast: "justify" } as React.CSSProperties;
  return (
    <div
      lang="zh-CN"
      style={{ position: "absolute", left: 0, top: 0, width: 2481, height: 3509, background: "#fff", overflow: "hidden" }}
    >
      <div style={abs({ ...headerFont, left: 268, top: 194 })}>第 3 期</div>
      <div style={abs({ ...headerFont, left: 619, top: 194 })}>刘　琳，等：基于深度学习的激光熔覆过程状态及缺陷声发射信号识别方法</div>
      <div style={abs({ ...headerFont, left: 2084, width: 126, top: 194, textAlign: "right" })}>219</div>
      <div style={abs({ left: 223, top: 246, width: 2032, height: 4, background: "#111" })} />

      <div style={abs({ ...paraFont, ...justify, left: 232, top: 307, width: 962 })}>状态信号样本频段均集中于 150 kHz 附近。可以</div>
      <div style={abs({ ...paraFont, ...justify, left: 232, top: 376, width: 962 })}>通过频谱图区分出产生裂纹、产生气孔以及冷却</div>
      <div style={abs({ ...paraFont, ...justify, left: 1285, top: 307, width: 962 })}>状态信号，但送粉和熔融状态在频域上难以</div>
      <div style={abs({ ...paraFont, left: 1285, top: 376, width: 962 })}>区分。</div>

      {panels.map((p, i) => (
        <Panel key={i} s={p} />
      ))}

      {captions.map((c, i) => (
        <div
          key={c}
          style={abs({
            left: captionCenters[i].x - 500,
            top: captionCenters[i].y - 20,
            width: 1000,
            textAlign: "center",
            fontFamily: SERIF,
            fontSize: FONT_SIZE,
            lineHeight: "40px",
            color: TEXT,
            whiteSpace: "nowrap",
          })}
        >
          {c}
        </div>
      ))}
    </div>
  );
}
